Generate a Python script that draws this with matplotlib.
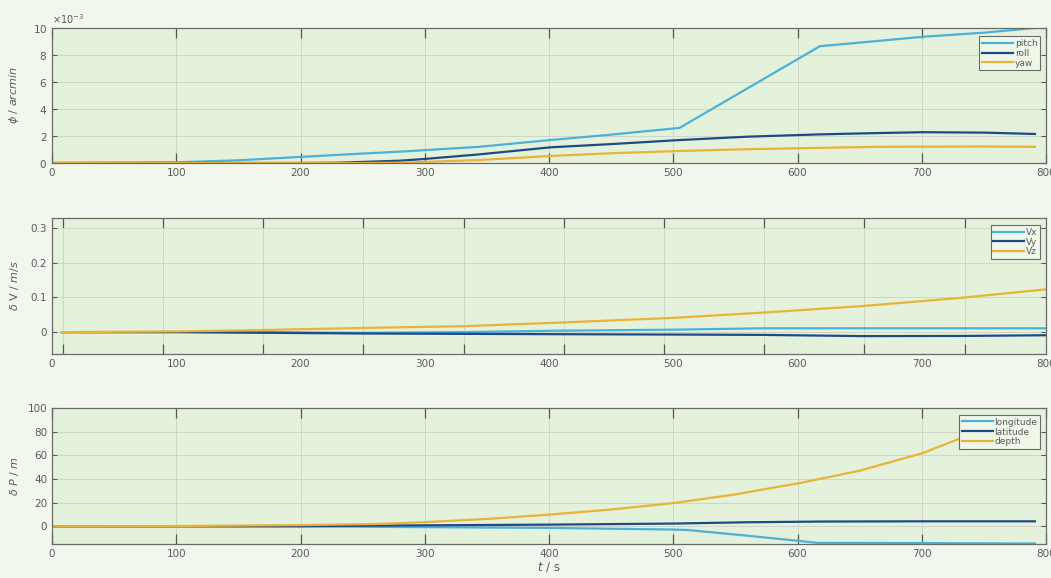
import matplotlib.pyplot as plt
import numpy as np

# attitude error (x1e-3 arcmin)
t_att = [0, 100, 150, 200, 250, 280, 300, 344, 401, 450, 505, 618, 666, 701, 750, 791]
pitch = [0, 0.05, 0.2, 0.45, 0.7, 0.84, 0.95, 1.2, 1.7, 2.1, 2.6, 8.65, 9.05, 9.35, 9.65, 10.0]
t_att2 = [0, 200, 230, 280, 300, 344, 401, 450, 505, 560, 618, 666, 701, 750, 791]
roll = [0, 0, 0.02, 0.17, 0.3, 0.64, 1.16, 1.4, 1.7, 1.95, 2.12, 2.22, 2.28, 2.25, 2.15]
t_att3 = [0, 250, 280, 300, 344, 401, 450, 505, 560, 618, 666, 750, 791]
yaw = [0, 0, 0.02, 0.08, 0.22, 0.52, 0.72, 0.89, 1.02, 1.12, 1.2, 1.22, 1.2]

# velocity error (m/s)
t_vel = [8, 100, 170, 250, 331, 406, 500, 572, 653, 733, 800]
vx = [0, 0, 0, -0.002, 0, 0.004, 0.007, 0.011, 0.011, 0.011, 0.011]
vy = [0, 0, -0.002, -0.004, -0.005, -0.006, -0.007, -0.008, -0.0115, -0.011, -0.009]
vz = [0, 0.002, 0.006, 0.012, 0.017, 0.027, 0.041, 0.056, 0.075, 0.099, 0.123]

# position error (m)
t_pos = [0, 100, 200, 264, 300, 350, 401, 450, 501, 550, 602, 650, 701, 735, 765, 791]
depth = [0, 0.2, 1.0, 2.0, 3.5, 6.2, 9.9, 14.2, 19.7, 27, 36.6, 47, 62, 76, 85, 93]
t_lat = [0, 200, 264, 401, 501, 560, 620, 700, 791]
latitude = [0, 0, 0.6, 1.4, 2.3, 3.4, 4.0, 4.2, 4.2]
t_lon = [0, 200, 264, 401, 501, 512, 560, 616, 700, 791]
longitude = [0, 0, -0.5, -1.4, -2.8, -3.2, -8.0, -14.0, -14.2, -14.6]

xticks = [0, 100, 200, 300, 400, 500, 600, 700, 800]

c_light = '#4cb1d9'
c_dark = '#1f4a86'
c_yel = '#e9b33a'
bg = '#f2f7ee'
ax_bg = '#e4f2dc'
txt = '#5a5a5a'
grid_c = '#cdd6c8'

fig = plt.figure(figsize=(10.51, 5.78), dpi=100, facecolor=bg)
left, width = 0.0495, 0.9458
ax1 = fig.add_axes([left, 0.718, width, 0.2336])
ax2 = fig.add_axes([left, 0.3875, width, 0.2353])
ax3 = fig.add_axes([left, 0.0588, width, 0.2353])


def style(ax, grid_x=True):
    ax.set_facecolor(ax_bg)
    for s in ax.spines.values():
        s.set_color('#6a6a6a')
        s.set_linewidth(0.9)
    ax.tick_params(axis='both', colors='#555555', labelcolor=txt, labelsize=7.5,
                   direction='in', top=True, right=True)
    ax.tick_params(axis='x', length=7, width=0.9)
    ax.tick_params(axis='y', length=3.5, width=0.8)
    ax.grid(True, axis='y', color=grid_c, linewidth=0.7)
    if grid_x:
        ax.grid(True, axis='x', color=grid_c, linewidth=0.7)
    ax.set_xlim(0, 800)
    ax.set_xticks(xticks)
    ax.yaxis.set_label_coords(-0.031, 0.5)


def legend(ax, y):
    lg = ax.legend(loc='upper right', bbox_to_anchor=(0.994, y), borderaxespad=0,
                   fontsize=6.5, handlelength=3.4, labelspacing=0.1,
                   handletextpad=0.2, borderpad=0.3, fancybox=False,
                   edgecolor='#6a6a6a', facecolor='#eef7e8', framealpha=1)
    lg.get_frame().set_linewidth(0.8)
    lg.set_zorder(5)
    for t in lg.get_texts():
        t.set_color(txt)


# attitude
style(ax1)
ax1.plot(t_att, np.array(pitch) * 1e-3, color=c_light, lw=1.6, label='pitch')
ax1.plot(t_att2, np.array(roll) * 1e-3, color=c_dark, lw=1.6, label='roll')
ax1.plot(t_att3, np.array(yaw) * 1e-3, color=c_yel, lw=1.6, label='yaw')
ax1.set_ylim(0, 0.010)
ax1.set_yticks([0, 0.002, 0.004, 0.006, 0.008, 0.010])
ax1.ticklabel_format(axis='y', style='sci', scilimits=(-3, -3), useMathText=True)
ax1.yaxis.get_offset_text().set_fontsize(7)
ax1.yaxis.get_offset_text().set_color(txt)
ax1.set_ylabel(r'$\phi$ / $arcmin$', fontsize=8, color=txt)
legend(ax1, 0.94)

# velocity
style(ax2, grid_x=False)
ax2.tick_params(axis='x', length=0)
ax2.plot(t_vel, vx, color=c_light, lw=1.6, label='Vx')
ax2.plot(t_vel, vy, color=c_dark, lw=1.6, label='Vy')
ax2.plot(t_vel, vz, color=c_yel, lw=1.6, label='Vz')
ax2.set_ylim(-0.063, 0.328)
ax2.set_yticks([0, 0.1, 0.2, 0.3])
ax2.set_yticklabels(['0', '0.1', '0.2', '0.3'])
ax2.set_ylabel(r'$\delta$ V / $m/s$', fontsize=8, color=txt)
# the vertical grid of this panel sits on its own scale
gx = ax2.twiny()
gx.set_xlim(-10.7, 981.3)
gx.set_xticks([0, 100, 200, 300, 400, 500, 600, 700, 800, 900])
gx.tick_params(axis='x', direction='in', length=7, width=0.9, colors='#555555',
               labeltop=False, labelbottom=False, top=True, bottom=True)
gx.grid(True, axis='x', color=grid_c, linewidth=0.7)
for s in gx.spines.values():
    s.set_visible(False)
gx.set_zorder(ax2.get_zorder() + 1)
ax2.set_zorder(gx.get_zorder() + 1)
ax2.patch.set_visible(False)
gx.patch.set_visible(True)
gx.patch.set_facecolor(ax_bg)
legend(ax2, 0.949)

# position
style(ax3)
ax3.plot(t_lon, longitude, color=c_light, lw=1.6, label='longitude')
ax3.plot(t_lat, latitude, color=c_dark, lw=1.6, label='latitude')
ax3.plot(t_pos, depth, color=c_yel, lw=1.6, label='depth')
ax3.set_ylim(-15, 100)
ax3.set_yticks([0, 20, 40, 60, 80, 100])
ax3.set_ylabel(r'$\delta$ $P$ / $m$', fontsize=8, color=txt)
ax3.set_xlabel(r'$t$ / s', fontsize=8.5, color=txt, labelpad=1)
legend(ax3, 0.949)

fig.savefig('out.png', dpi=100, facecolor=bg)
plt.close(fig)
